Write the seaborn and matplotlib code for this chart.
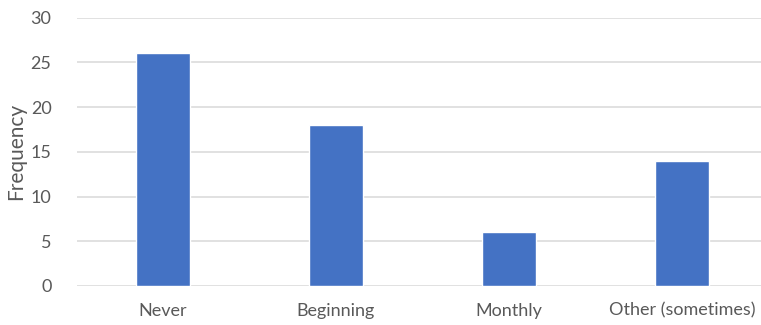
import matplotlib
matplotlib.use("Agg")
import matplotlib.pyplot as plt
import seaborn as sns
import pandas as pd

categories = ["Never", "Beginning", "Monthly", "Other (sometimes)"]
frequency = [26, 18, 6, 14]
y_ticks = [0, 5, 10, 15, 20, 25, 30]

df = pd.DataFrame({"category": categories, "frequency": frequency})

sns.set_theme(style="white")
plt.rcParams["font.family"] = ["Lato", "DejaVu Sans"]

text_color = "#595959"
fig = plt.figure(figsize=(7.61, 3.25), dpi=100)
ax = fig.add_axes([76.5 / 761, 39 / 325, 692 / 761, 268.3 / 325])

sns.barplot(data=df, x="category", y="frequency", color="#4472C4",
            width=0.312, saturation=1, ax=ax, zorder=3)

ax.set_ylim(0, 30)
ax.set_xlim(-0.5, 3.5)
ax.set_yticks(y_ticks)
ax.yaxis.grid(True, color="#D9D9D9", linewidth=1.1, zorder=0)
ax.set_axisbelow(True)
for s in ax.spines.values():
    s.set_visible(False)
ax.tick_params(axis="both", length=0, labelsize=13, colors=text_color)
ax.tick_params(axis="y", pad=18)
ax.tick_params(axis="x", pad=12)
ax.set_xlabel("")
ax.set_ylabel("Frequency", fontsize=15, color=text_color)
ax.yaxis.set_label_coords(-0.073, 0.5)

fig.savefig("out.png", dpi=100)
